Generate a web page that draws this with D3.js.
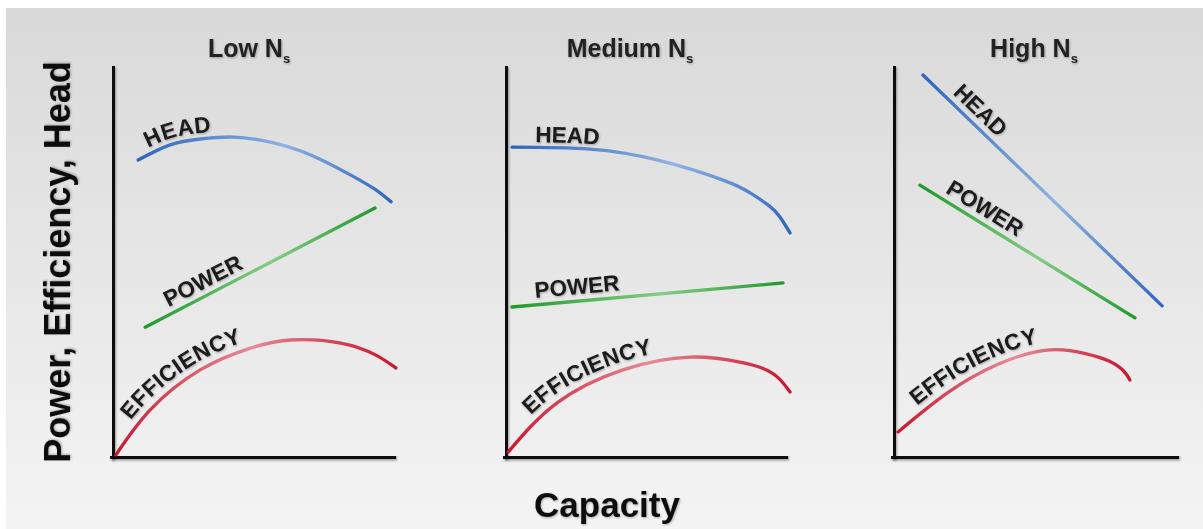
<!DOCTYPE html>
<html><head><meta charset="utf-8">
<script src="https://cdn.jsdelivr.net/npm/d3@7"></script>
<style>body{margin:0;background:#fff}svg{display:block}</style></head><body>
<svg id="c" width="1203" height="529"></svg>
<script>
// ---------- DATA (capacity %, value %) ----------
const panelTitles = ["Low", "Medium", "High"];
const seriesNames = ["HEAD", "POWER", "EFFICIENCY"];
const xAxisLabel = "Capacity";
const yAxisLabel = "Power, Efficiency, Head";

const headLow  = [[9.3,76.3],[20.7,80.2],[31.4,81.7],[43.2,82.2],[56.4,80.9],[70.7,77.6],[85,72.4],[93.9,68.6],[99.3,65.5]];
const powerLow = [[11.8,33.2],[93.6,63.9]];
const effLow   = [[1.4,0.3],[13.6,11.9],[31.4,22.2],[49.3,27.8],[63.6,29.9],[81.4,29.1],[93.9,26],[101,22.7]];

const headMed  = [[2.5,79.6],[30.4,79.1],[54.3,76.3],[77.9,71.1],[88,67.6],[94.5,64.4],[98.2,61.6],[101.8,57.5]];
const powerMed = [[2.5,38.4],[99.3,44.6]];
const effMed   = [[1.1,1.0],[18.6,13.7],[42.1,22.2],[66.1,25.5],[83.9,24.2],[92,22.6],[97.5,20.2],[101.8,16.5]];

const headHigh  = [[10.6,98.2],[95.1,38.7]];
const powerHigh = [[9.5,69.8],[85.5,35.6]];
const effHigh   = [[1.8,6.2],[19.1,16.2],[36.7,23.5],[54.4,27.3],[68,26.4],[76.5,24.4],[81.5,21.9],[83.7,19.6]];

const panelData = [
  [headLow, powerLow, effLow],
  [headMed, powerMed, effMed],
  [headHigh, powerHigh, effHigh]
];

// ---------- LAYOUT / STYLE ----------
const panelRanges = [[112, 393], [505, 785], [893, 1176]];
const yRange = [456, 68];
const titleCenters = [249, 630, 1034];
const colors = {
  HEAD: ["#2e66bd", "#8fb2e0"],
  POWER: ["#1f9a2b", "#86cc86"],
  EFFICIENCY: ["#c8182f", "#e58a98"]
};
// [startOffset along curve, perpendicular dy]
const labelPlace = [
  [[14, -6], [30, -7], [36, -8]],
  [[23, -5], [24, -7], [42, -8]],
  [[34, -7], [25, -7], [31, -8]]
];

const svg = d3.select("#c");
const defs = svg.append("defs");
const bg = defs.append("linearGradient").attr("id", "bg").attr("x1", 0).attr("y1", 0).attr("x2", 0).attr("y2", 1);
bg.append("stop").attr("offset", "0%").attr("stop-color", "#d9d9d9");
bg.append("stop").attr("offset", "100%").attr("stop-color", "#f4f4f4");
const f = defs.append("filter").attr("id", "sh").attr("filterUnits", "userSpaceOnUse")
  .attr("x", 0).attr("y", 0).attr("width", 1203).attr("height", 529);
f.append("feDropShadow").attr("dx", 1).attr("dy", 1.5).attr("stdDeviation", 1.2).attr("flood-color", "#000").attr("flood-opacity", 0.35);
const ft = defs.append("filter").attr("id", "tsh").attr("x", "-20%").attr("y", "-20%").attr("width", "140%").attr("height", "140%");
ft.append("feDropShadow").attr("dx", 0.8).attr("dy", 1).attr("stdDeviation", 0.8).attr("flood-color", "#000").attr("flood-opacity", 0.3);

svg.append("rect").attr("x", 6).attr("y", 8).attr("width", 1197).attr("height", 521).attr("fill", "url(#bg)");

const y = d3.scaleLinear().domain([0, 100]).range(yRange);
const font = "'Liberation Sans', Arial, Helvetica, sans-serif";

panelData.forEach((series, pi) => {
  const x = d3.scaleLinear().domain([0, 100]).range(panelRanges[pi]);
  const g = svg.append("g");

  // axes
  const ax = g.append("g").attr("transform", `translate(0,${y(0)})`)
    .call(d3.axisBottom(x).tickValues([]).tickSizeOuter(0));
  const ay = g.append("g").attr("transform", `translate(${x(0)},0)`)
    .call(d3.axisLeft(y).tickValues([]).tickSizeOuter(0));
  [ax, ay].forEach(a => a.select(".domain").attr("stroke", "#111").attr("stroke-width", 5)
    .attr("stroke-linecap", "square").attr("filter", "url(#sh)"));

  // title
  const t = g.append("text").attr("x", titleCenters[pi]).attr("y", 57)
    .attr("text-anchor", "middle").attr("font-family", font).attr("font-weight", "bold")
    .attr("font-size", 25).attr("fill", "#222").attr("filter", "url(#tsh)");
  t.append("tspan").text(panelTitles[pi] + " N");
  t.append("tspan").attr("font-size", 13).attr("dy", 6).text("s");

  const line = d3.line().x(d => x(d[0])).y(d => y(d[1])).curve(d3.curveNatural);

  series.forEach((pts, si) => {
    const name = seriesNames[si];
    const gid = `g${pi}_${si}`;
    const xs = pts.map(d => x(d[0])), ys = pts.map(d => y(d[1]));
    const gr = defs.append("linearGradient").attr("id", gid).attr("gradientUnits", "userSpaceOnUse")
      .attr("x1", xs[0]).attr("y1", ys[0]).attr("x2", xs[xs.length - 1]).attr("y2", ys[ys.length - 1]);
    gr.append("stop").attr("offset", "0%").attr("stop-color", colors[name][0]);
    gr.append("stop").attr("offset", "55%").attr("stop-color", colors[name][1]);
    gr.append("stop").attr("offset", "100%").attr("stop-color", colors[name][0]);

    const pid = `p${pi}_${si}`;
    g.append("path").attr("id", pid).attr("d", line(pts)).attr("fill", "none")
      .attr("stroke", `url(#${gid})`).attr("stroke-width", 3.3).attr("stroke-linecap", "round");

    const lp = labelPlace[pi][si];
    g.append("text").attr("dy", lp[1]).attr("font-family", font).attr("font-weight", "bold")
      .attr("font-size", 22.5).attr("fill", "#1a1a1a").attr("filter", "url(#tsh)")
      .append("textPath").attr("href", `#${pid}`).attr("startOffset", lp[0]).text(name);
  });
});

// shared axis labels
svg.append("text").attr("transform", "translate(70,262) rotate(-90)").attr("text-anchor", "middle")
  .attr("font-family", font).attr("font-weight", "bold").attr("font-size", 36).attr("fill", "#111")
  .attr("filter", "url(#tsh)").text(yAxisLabel);
svg.append("text").attr("x", 607).attr("y", 517).attr("text-anchor", "middle")
  .attr("font-family", font).attr("font-weight", "bold").attr("font-size", 35).attr("fill", "#111")
  .attr("filter", "url(#tsh)").text(xAxisLabel);
</script>
</body></html>
